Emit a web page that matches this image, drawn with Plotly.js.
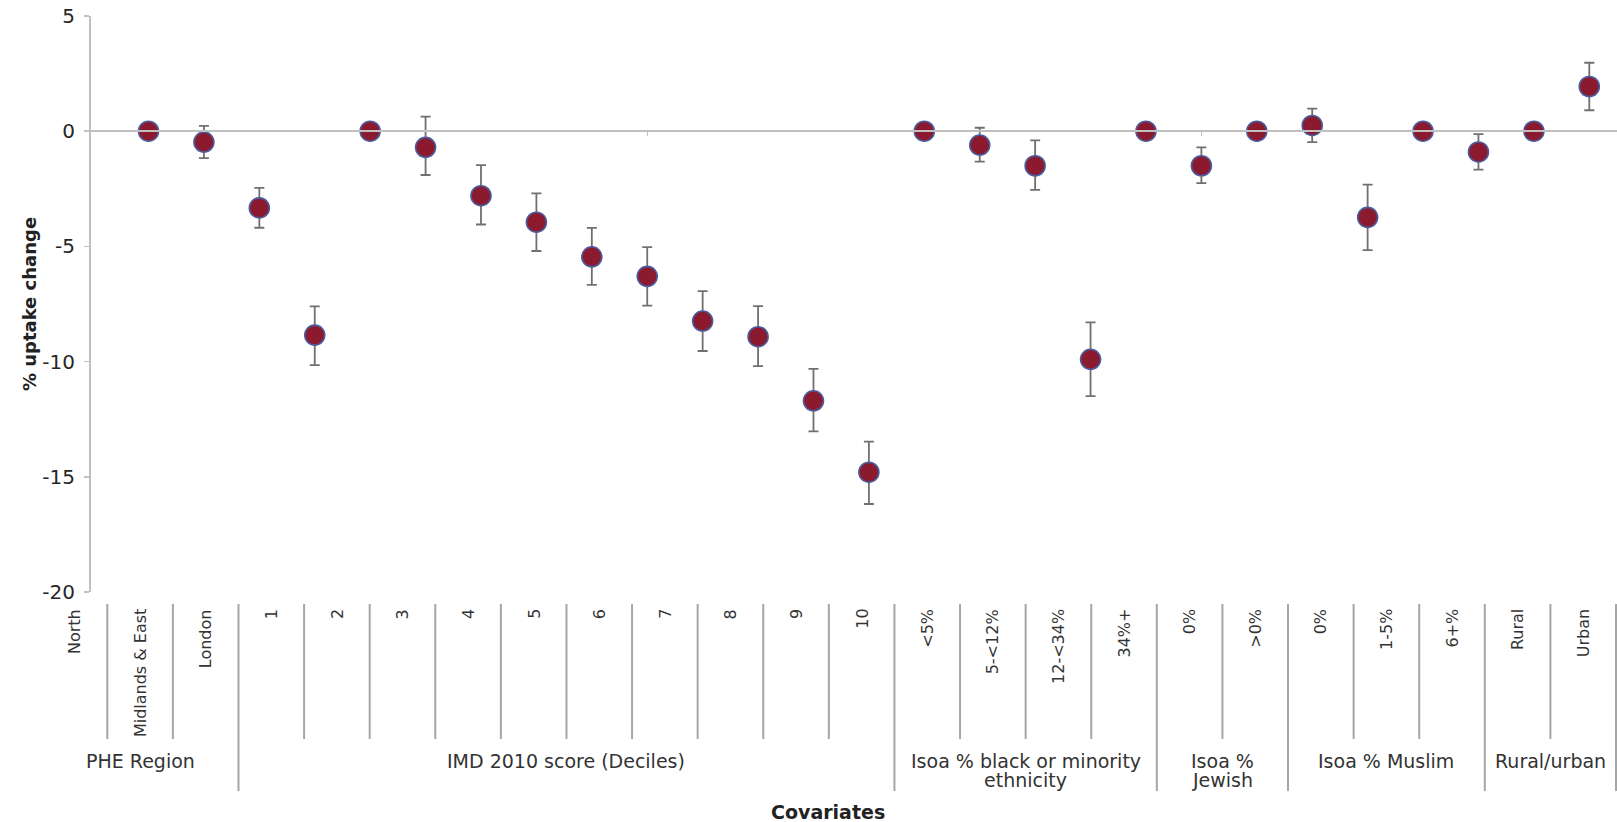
<!DOCTYPE html>
<html>
<head>
<meta charset="utf-8">
<script src="https://cdn.plot.ly/plotly-3.0.1.min.js"></script>
<style>html,body{margin:0;padding:0;background:#fff;}#chart{width:1617px;height:822px;}</style>
</head>
<body>
<div id="chart"></div>
<script>
// ---- data ----
const pointValues = [0, -0.47, -3.33, -8.85, 0, -0.7, -2.8, -3.95, -5.45, -6.3, -8.24, -8.92, -11.7, -14.8, 0, -0.6, -1.5, -9.9, 0, -1.5, 0, 0.25, -3.74, 0, -0.9, 0, 1.94];
const errPlus  = [null, 0.7, 0.87, 1.25, null, 1.33, 1.33, 1.25, 1.25, 1.27, 1.3, 1.33, 1.38, 1.33, null, 0.75, 1.1, 1.6, null, 0.8, null, 0.73, 1.42, null, 0.77, null, 1.03];
const errMinus = [null, 0.7, 0.86, 1.3, null, 1.2, 1.25, 1.25, 1.22, 1.27, 1.3, 1.28, 1.33, 1.38, null, 0.72, 1.05, 1.6, null, 0.75, null, 0.72, 1.42, null, 0.77, null, 1.03];
const categoryLabels = ['North', 'Midlands & East', 'London', '1', '2', '3', '4', '5', '6', '7', '8', '9', '10', '<5%', '5-<12%', '12-<34%', '34%+', '0%', '>0%', '0%', '1-5%', '6+%', 'Rural', 'Urban'];
const groupLabels = [['PHE Region'], ['IMD 2010 score (Deciles)'], ['Isoa % black or minority', 'ethnicity'], ['Isoa %', 'Jewish'], ['Isoa % Muslim'], ['Rural/urban']];
const groupSizes = [3, 10, 4, 2, 3, 2];
const yTicks = [5, 0, -5, -10, -15, -20];

// ---- layout geometry ----
const W = 1617, H = 822, ML = 91, MR = 0, MT = 16, MB = 230;
const PW = W - ML - MR, PH = H - MT - MB;
const xp = px => (px - ML) / PW;
const yp = py => 1 - (py - MT) / PH;
const tableLeft = 41.7, tableRight = 1616;
const colW = (tableRight - tableLeft) / categoryLabels.length;
const esc = s => s.replace(/&/g, '&amp;').replace(/</g, '&lt;').replace(/>/g, '&gt;');
const textColor = '#333333';
const lineColor = '#a6a6a6';

const xIdx = pointValues.map((v, i) => i + 1);

const trace = {
  type: 'scatter', mode: 'markers',
  x: xIdx, y: pointValues,
  marker: {size: 20, color: '#8b1a2e', line: {color: '#4b5b9c', width: 1.6}},
  error_y: {type: 'data', symmetric: false, array: errPlus, arrayminus: errMinus,
            color: '#707070', thickness: 1.8, width: 5},
  hoverinfo: 'x+y', showlegend: false
};

const annotations = [];
const shapes = [];

// category labels (rotated)
categoryLabels.forEach((lab, k) => {
  annotations.push({
    xref: 'paper', yref: 'paper',
    x: xp(tableLeft + colW * (k + 0.5)), y: yp(607),
    xanchor: 'center', yanchor: 'top',
    text: esc(lab), textangle: -90, showarrow: false,
    font: {family: 'DejaVu Sans', size: 16, color: textColor}
  });
});

// dividers
const groupEnds = new Set();
let acc = 0;
groupSizes.forEach(s => { acc += s; groupEnds.add(acc); });
for (let k = 1; k <= categoryLabels.length; k++) {
  const isGroup = groupEnds.has(k);
  shapes.push({
    type: 'line', xref: 'paper', yref: 'paper',
    x0: xp(tableLeft + colW * k), x1: xp(tableLeft + colW * k),
    y0: yp(604), y1: yp(isGroup ? 791 : 739),
    line: {color: lineColor, width: 2}
  });
}

// group labels
let start = 0;
groupLabels.forEach((lines, g) => {
  const cx = tableLeft + colW * (start + groupSizes[g] / 2);
  lines.forEach((ln, li) => {
    annotations.push({
      xref: 'paper', yref: 'paper',
      x: xp(cx), y: yp(761 + 19 * li),
      xanchor: 'center', yanchor: 'middle',
      text: esc(ln), showarrow: false,
      font: {family: 'DejaVu Sans', size: 19, color: textColor}
    });
  });
  start += groupSizes[g];
});

// x title
annotations.push({
  xref: 'paper', yref: 'paper', x: xp(828), y: yp(812),
  xanchor: 'center', yanchor: 'middle', showarrow: false,
  text: 'Covariates',
  font: {family: 'DejaVu Sans', size: 19, color: '#222222', weight: 'bold'}
});

const layout = {
  width: W, height: H,
  margin: {l: ML, r: MR, t: MT, b: MB},
  paper_bgcolor: '#ffffff', plot_bgcolor: '#ffffff',
  font: {family: 'DejaVu Sans', color: textColor},
  xaxis: {
    range: [-0.0376, 27.5], anchor: 'free', position: 0.8,
    showline: true, linecolor: '#c0c0c0', linewidth: 2,
    ticks: 'outside', ticklen: 4, tickwidth: 1, tickcolor: '#c0c0c0',
    tickvals: [10, 20], showticklabels: false,
    showgrid: false, zeroline: false, fixedrange: true
  },
  yaxis: {
    range: [-20, 5], tickvals: yTicks, ticktext: yTicks.map(String),
    showline: true, linecolor: '#c0c0c0', linewidth: 2,
    ticks: 'outside', ticklen: 5, tickwidth: 1.5, tickcolor: '#c0c0c0',
    ticklabelstandoff: 5,
    tickfont: {family: 'DejaVu Sans', size: 20, color: '#262626'},
    showgrid: false, zeroline: false, fixedrange: true,
    title: {text: '% uptake change', standoff: 1,
            font: {family: 'DejaVu Sans', size: 18, color: '#222222', weight: 'bold'}}
  },
  annotations: annotations,
  shapes: shapes
};

Plotly.newPlot('chart', [trace], layout, {displayModeBar: false, staticPlot: true});
</script>
</body>
</html>
